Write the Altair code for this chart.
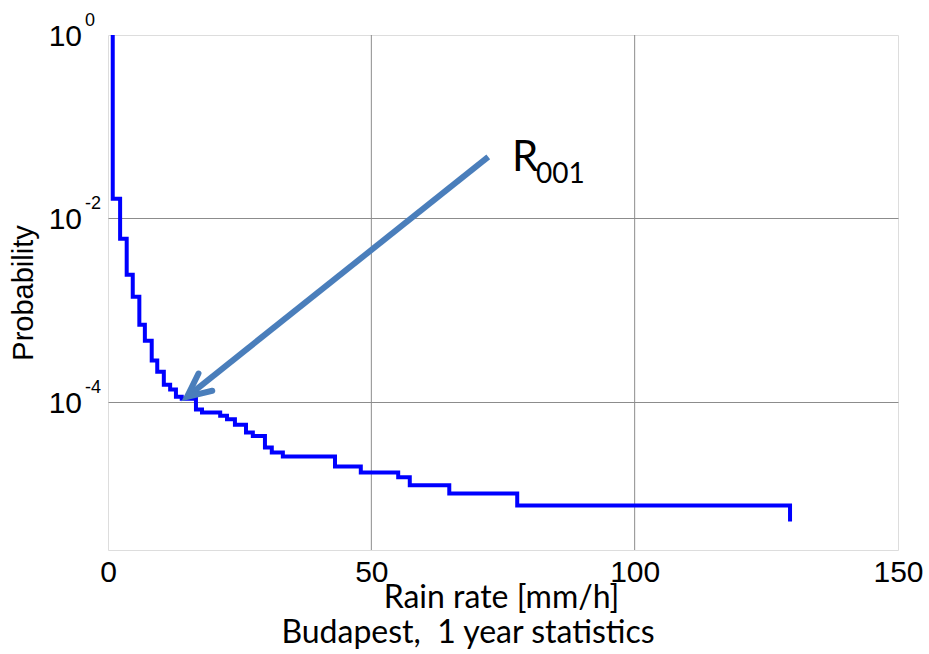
import altair as alt
import pandas as pd

# Step curve: probability that rain rate is exceeded
rain_rate = [0.9, 0.9, 2.3, 3.55, 4.7, 5.95, 7.0, 8.3, 9.35, 10.6, 11.8, 12.9, 14.0,
             16.7, 17.85, 21.3, 22.6, 24.1, 26.2, 27.5, 29.8, 31.1, 33.2, 43.1, 48.0,
             55.1, 57.3, 64.8, 77.7, 129.5]
probability = [1.0, 0.0163, 0.00598, 0.00242, 0.00139, 6.9e-4, 4.6e-4, 2.8e-4, 2.12e-4,
               1.53e-4, 1.35e-4, 1.13e-4, 1.07e-4, 8.2e-5, 7.6e-5, 7.0e-5, 6.4e-5, 5.6e-5,
               4.6e-5, 4.2e-5, 3.15e-5, 2.78e-5, 2.52e-5, 1.96e-5, 1.68e-5, 1.49e-5,
               1.22e-5, 9.9e-6, 7.35e-6, 4.92e-6]

# Axis ticks
x_ticks = [0, 50, 100, 150]
y_ticks = [1.0, 1e-2, 1e-4]
y_tick_base = ["10", "10", "10"]
y_tick_exp = ["0", "-2", "-4"]
y_grid = [1e-2, 1e-4]
x_grid = [50, 100]

# Annotation arrow (start, tip) and label
arrow_x = [72.2, 15.0]
arrow_p = [0.0468, 1.127e-4]
label_x = [76.7]
label_p = [0.0329]

X_DOMAIN = [0, 150]
Y_DOMAIN = [2.4e-6, 1.0]

curve = pd.DataFrame({"x": rain_rate, "p": probability, "i": range(len(rain_rate))})
ticks_df = pd.DataFrame({"p": y_ticks, "base": y_tick_base, "exp": y_tick_exp})
arrow_df = pd.DataFrame({"x": arrow_x, "p": arrow_p, "i": [0, 1]})
tip_df = pd.DataFrame({"x": [arrow_x[1]], "p": [arrow_p[1]]})
label_df = pd.DataFrame({"x": label_x, "p": label_p})

xscale = alt.Scale(domain=X_DOMAIN, nice=False, zero=False)
yscale = alt.Scale(type="log", domain=Y_DOMAIN, nice=False)

SANS = "Liberation Sans"

line = alt.Chart(curve).mark_line(interpolate="step-after", color="#0000ff",
                                  strokeWidth=4, clip=True).encode(
    x=alt.X("x:Q", scale=xscale,
            axis=alt.Axis(values=x_ticks, ticks=False, domain=False, grid=False,
                          labelFont=SANS, labelFontSize=30,
                          labelColor="#000000", labelPadding=7, labelFlush=False,
                          title="Rain rate [mm/h]", titleFont="Lato", titleFontSize=32,
                          titleFontWeight="normal", titleColor="#000000",
                          titleBaseline="top", titleY=32, titleX=393)),
    y=alt.Y("p:Q", scale=yscale,
            axis=alt.Axis(values=y_grid, labels=False, ticks=False, domain=False,
                          grid=True, gridColor="#8c8c8c", gridWidth=1,
                          title="Probability", titleFont=SANS,
                          titleFontSize=29, titleFontWeight="normal",
                          titleColor="#000000", titlePadding=70)),
    order="i:Q",
)

xgrid = alt.Chart(pd.DataFrame({"x": x_grid})).mark_rule(color="#8c8c8c", strokeWidth=1).encode(
    x=alt.X("x:Q", scale=xscale)
)

tick_base = alt.Chart(ticks_df).mark_text(
    align="right", baseline="alphabetic", dy=11, font=SANS,
    fontSize=30, color="#000000"
).encode(x=alt.value(-26), y=alt.Y("p:Q", scale=yscale), text="base:N")

tick_exp = alt.Chart(ticks_df).mark_text(
    align="left", baseline="alphabetic", dy=-9, font=SANS,
    fontSize=18, color="#000000"
).encode(x=alt.value(-23), y=alt.Y("p:Q", scale=yscale), text="exp:N")

arrow_line = alt.Chart(arrow_df).mark_line(color="#4a7ebb", strokeWidth=6,
                                           strokeCap="butt").encode(
    x=alt.X("x:Q", scale=xscale), y=alt.Y("p:Q", scale=yscale), order="i:Q"
)

arrow_head = alt.Chart(tip_df).mark_point(
    shape="M -1 -0.47 L 0 0 L -1 0.47", filled=False, stroke="#4a7ebb",
    strokeWidth=6, size=2209, angle=141.4, opacity=1, strokeCap="round",
    strokeJoin="miter"
).encode(x=alt.X("x:Q", scale=xscale), y=alt.Y("p:Q", scale=yscale))

label_r = alt.Chart(label_df).mark_text(
    align="left", baseline="alphabetic", font="Lato", fontSize=42, color="#000000"
).encode(x=alt.X("x:Q", scale=xscale), y=alt.Y("p:Q", scale=yscale),
         text=alt.value("R"))

label_sub = alt.Chart(label_df).mark_text(
    align="left", baseline="alphabetic", font="Lato", fontSize=28, color="#000000",
    dx=24, dy=12
).encode(x=alt.X("x:Q", scale=xscale), y=alt.Y("p:Q", scale=yscale),
         text=alt.value("001"))

chart = alt.layer(
    xgrid, line, arrow_line, arrow_head, tick_base, tick_exp, label_r, label_sub
).properties(
    width=790,
    height=515,
    autosize="none",
    padding={"left": 108, "top": 35, "right": 31, "bottom": 104},
    title=alt.TitleParams(
        text="Budapest,\u00a0 1 year statistics", orient="bottom", anchor="middle",
        font="Lato", fontSize=32, fontWeight="normal", color="#000000",
        offset=5, dx=-35
    ),
).configure_view(
    stroke="#262626", strokeWidth=2
).configure(background="#ffffff")

chart.save("out.html", embed_options={"renderer": "svg", "actions": False})
